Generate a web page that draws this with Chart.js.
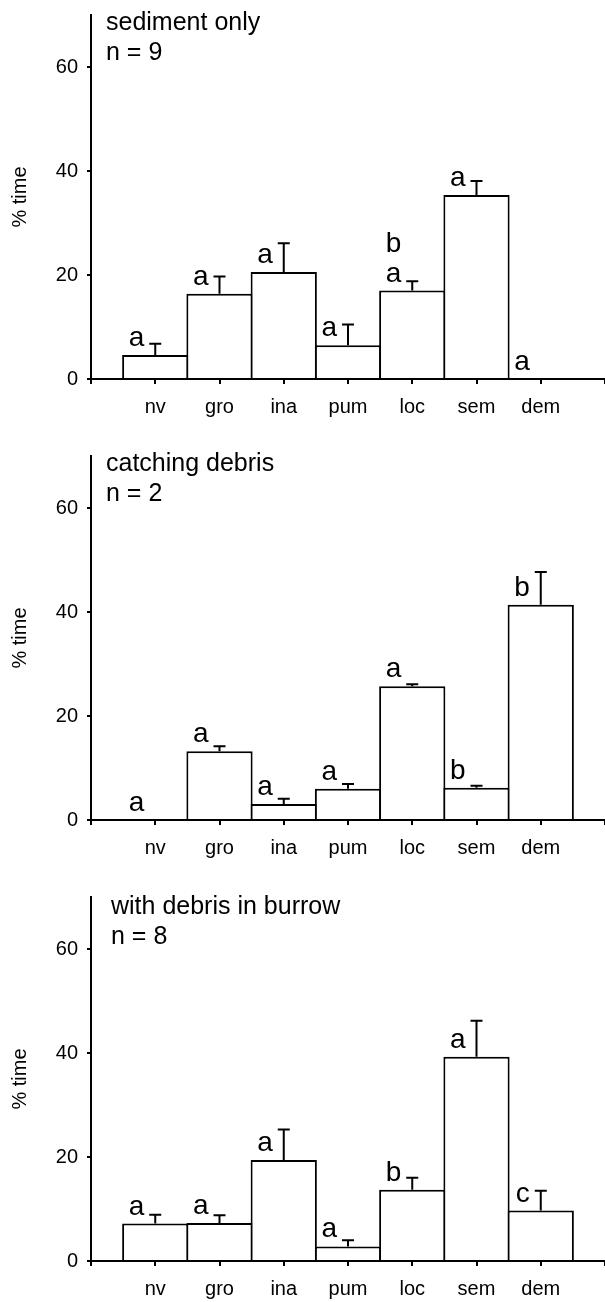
<!DOCTYPE html>
<html>
<head>
<meta charset="utf-8">
<script src="https://cdn.jsdelivr.net/npm/chart.js@4.4.0/dist/chart.umd.min.js"></script>
<style>
  html, body { margin: 0; padding: 0; background: #fff; }
  #wrap { position: relative; width: 605px; height: 1302px; overflow: hidden; }
  .panel { position: absolute; left: 0; width: 605px; height: 420px; }
</style>
</head>
<body>
<div id="wrap">
  <div class="panel" style="top:0px"><canvas id="c1" width="605" height="420"></canvas></div>
  <div class="panel" style="top:441px"><canvas id="c2" width="605" height="420"></canvas></div>
  <div class="panel" style="top:882px"><canvas id="c3" width="605" height="420"></canvas></div>
</div>
<script>
// categories along x (blank slots at both ends pad the axis)
const categories = ['nv', 'gro', 'ina', 'pum', 'loc', 'sem', 'dem'];
const axisLabels = [''].concat(categories, ['']);
const yTicks = [0, 20, 40, 60];
const yMax = 70;

// sediment only, n = 9
const sedimentMeans = [4.6, 16.4, 20.6, 6.5, 17.0, 35.4, 0];
const sedimentErrTop = [6.8, 19.7, 26.1, 10.5, 18.8, 38.1, null];
const sedimentLetters = [['a'], ['a'], ['a'], ['a'], ['a', 'b'], ['a'], ['a']];

// catching debris, n = 2
const catchingMeans = [0, 13.2, 3.1, 6.0, 25.7, 6.2, 41.4];
const catchingErrTop = [null, 14.2, 4.1, 6.9, 26.1, 6.6, 47.7];
const catchingLetters = [['a'], ['a'], ['a'], ['a'], ['a'], ['b'], ['b']];

// with debris in burrow, n = 8
const burrowMeans = [7.2, 7.3, 19.4, 2.8, 13.7, 39.3, 9.7];
const burrowErrTop = [8.9, 8.8, 25.3, 4.0, 16.0, 46.2, 13.5];
const burrowLetters = [['a'], ['a'], ['a'], ['a'], ['b'], ['a'], ['c']];

const FONT = "'Liberation Sans', Arial, Helvetica, sans-serif";

// error bars, significance letters and the panel caption
function makeAnnotations(means, errTop, letters, caption, capX, capY) {
  return {
    id: 'annot',
    afterDatasetsDraw(chart) {
      const ctx = chart.ctx;
      const xs = chart.scales.x, ys = chart.scales.y;
      ctx.save();
      ctx.strokeStyle = '#000';
      ctx.lineWidth = 2;
      means.forEach(function (m, i) {
        const px = xs.getPixelForValue(i + 1);
        const yBar = ys.getPixelForValue(m);
        if (errTop[i] != null) {
          const yTop = ys.getPixelForValue(errTop[i]);
          ctx.beginPath();
          ctx.moveTo(px, yBar);
          ctx.lineTo(px, yTop);
          ctx.moveTo(px - 6, yTop);
          ctx.lineTo(px + 6, yTop);
          ctx.stroke();
        }
        ctx.fillStyle = '#000';
        ctx.font = '28px ' + FONT;
        ctx.textAlign = 'right';
        ctx.textBaseline = 'alphabetic';
        letters[i].forEach(function (l, k) {
          ctx.fillText(l, px - 11, yBar - 9 - k * 30);
        });
      });
      ctx.font = '25px ' + FONT;
      ctx.textAlign = 'left';
      caption.forEach(function (line, k) {
        ctx.fillText(line, capX, capY + k * 30);
      });
      ctx.restore();
    }
  };
}

function makeChart(id, means, errTop, letters, caption, capX, capY) {
  const ctx = document.getElementById(id).getContext('2d');
  return new Chart(ctx, {
    type: 'bar',
    data: {
      labels: axisLabels,
      datasets: [{
        data: [null].concat(means, [null]),
        backgroundColor: '#fff',
        borderColor: '#000',
        borderWidth: 2,
        barPercentage: 1.031,
        categoryPercentage: 1
      }]
    },
    options: {
      responsive: false,
      animation: false,
      devicePixelRatio: 1,
      layout: { padding: { top: 15, right: 0, bottom: 0, left: 0 } },
      plugins: { legend: { display: false }, tooltip: { enabled: false } },
      scales: {
        x: {
          offset: false,
          grid: { offset: false, drawOnChartArea: false, drawTicks: true, tickLength: 5, color: '#000', lineWidth: 2 },
          border: { display: true, color: '#000', width: 2 },
          ticks: { color: '#000', font: { family: FONT, size: 20 }, padding: 11, autoSkip: false, maxRotation: 0 },
          afterFit: function (s) { s.height = 41; s.paddingLeft = 0; s.paddingRight = 0; }
        },
        y: {
          min: 0,
          max: yMax,
          afterBuildTicks: function (s) { s.ticks = yTicks.map(function (v) { return { value: v }; }); },
          grid: { drawOnChartArea: false, drawTicks: true, tickLength: 4, color: '#000', lineWidth: 2 },
          border: { display: true, color: '#000', width: 2 },
          ticks: { color: '#000', font: { family: FONT, size: 20 }, padding: 9 },
          title: { display: true, text: '% time', color: '#000', font: { family: FONT, size: 20 }, padding: { top: 8, bottom: 0 } },
          afterFit: function (s) { s.width = 91; s.paddingTop = 0; s.paddingBottom = 0; }
        }
      }
    },
    plugins: [makeAnnotations(means, errTop, letters, caption, capX, capY)]
  });
}

makeChart('c1', sedimentMeans, sedimentErrTop, sedimentLetters, ['sediment only', 'n = 9'], 106, 30);
makeChart('c2', catchingMeans, catchingErrTop, catchingLetters, ['catching debris', 'n = 2'], 106, 30);
makeChart('c3', burrowMeans, burrowErrTop, burrowLetters, ['with debris in burrow', 'n = 8'], 111, 32);
</script>
</body>
</html>
